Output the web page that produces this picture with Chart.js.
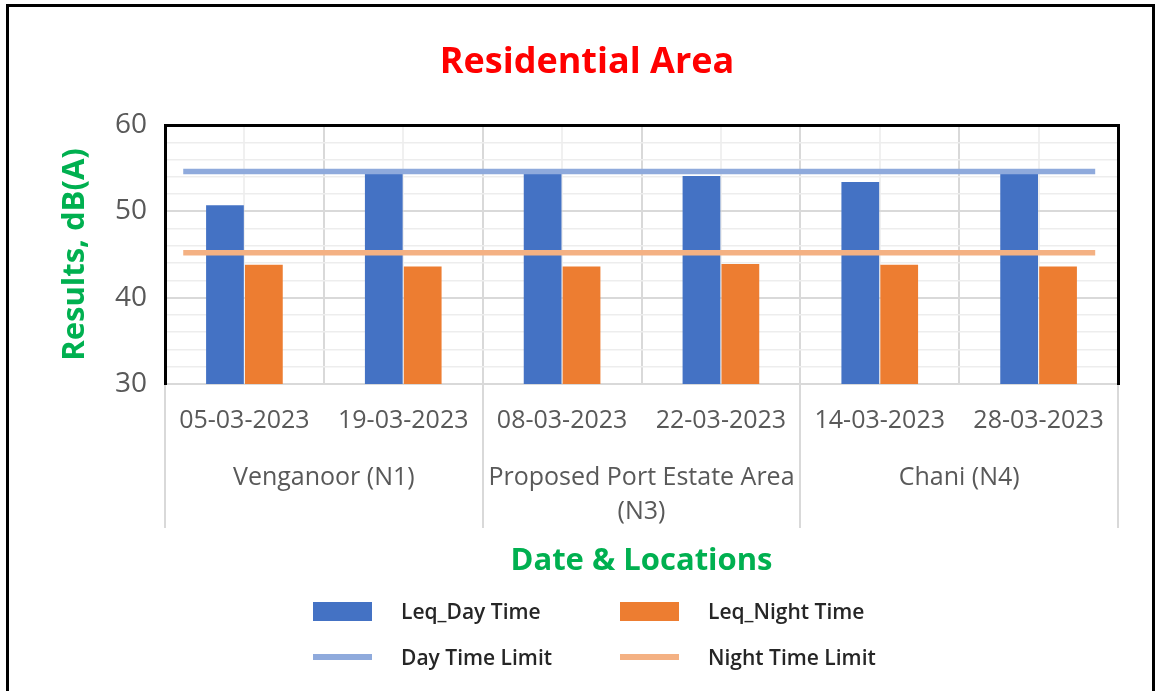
<!DOCTYPE html>
<html>
<head>
<meta charset="utf-8">
<script src="https://cdn.jsdelivr.net/npm/chart.js@4"></script>
<style>
body { margin: 0; background: #fff; font-family: "Open Sans", sans-serif; }
#wrap { position: relative; width: 1160px; height: 691px; overflow: hidden; }
#frame { position: absolute; left: 6px; top: 4px; width: 1143px; height: 720px; border: 3px solid #000; }
#legend { position: absolute; left: 0; top: 0; width: 1160px; height: 691px; pointer-events: none; }
.item { position: absolute; display: flex; align-items: center; height: 30px; }
.item span { position: absolute; left: 88px; white-space: nowrap; font-size: 21px; font-weight: 600; color: #262626; }
</style>
</head>
<body>
<div id="wrap">
  <canvas id="c" width="1160" height="691"></canvas>
  <div id="frame"></div>
  <div id="legend"></div>
</div>
<script>
const dates = ["05-03-2023", "19-03-2023", "08-03-2023", "22-03-2023", "14-03-2023", "28-03-2023"];
const groups = ["Venganoor (N1)", "Proposed Port Estate Area (N3)", "Chani (N4)"];
const dayLeq = [50.7, 54.4, 54.4, 54.1, 53.4, 54.4];
const nightLeq = [43.8, 43.6, 43.6, 43.9, 43.8, 43.6];
const dayLimit = [54.6, 54.6, 54.6, 54.6, 54.6, 54.6];
const nightLimit = [45.2, 45.2, 45.2, 45.2, 45.2, 45.2];
const yTicks = [30, 40, 50, 60];

const grey = "#595959";
const gridMajor = "#d9d9d9";
const perGroup = dates.length / groups.length;

Chart.defaults.font.family = "'Open Sans', sans-serif";
Chart.defaults.color = grey;

function points(arr) {
    return arr.map((v, i) => ({ x: i, y: v }));
}

// chart level indexAxis 'y' so the limit lines on their own x scale do not split the bar groups;
// the bars themselves stay vertical through their own indexAxis
const chart = new Chart("c", {
    type: "bar",
    data: {
        labels: dates,
        datasets: [
            { label: "Leq_Day Time", data: dayLeq, indexAxis: "x", xAxisID: "x", yAxisID: "y", backgroundColor: "#4472C4", order: 2 },
            { label: "Leq_Night Time", data: nightLeq, indexAxis: "x", xAxisID: "x", yAxisID: "y", backgroundColor: "#ED7D31", order: 2 },
            { type: "line", label: "Day Time Limit", data: points(dayLimit), indexAxis: "x", xAxisID: "xl", yAxisID: "y",
              borderColor: "#8FAADC", backgroundColor: "#8FAADC", borderWidth: 5.5, pointRadius: 0, order: 1 },
            { type: "line", label: "Night Time Limit", data: points(nightLimit), indexAxis: "x", xAxisID: "xl", yAxisID: "y",
              borderColor: "#F4B183", backgroundColor: "#F4B183", borderWidth: 5.5, pointRadius: 0, order: 1 }
        ]
    },
    options: {
        indexAxis: "y",
        responsive: false,
        animation: false,
        layout: { padding: { left: 56, right: 42, top: 0, bottom: 111 } },
        datasets: { bar: { categoryPercentage: 0.49, barPercentage: 0.97 } },
        plugins: {
            legend: { display: false },
            tooltip: { enabled: false },
            title: {
                display: true,
                text: "Residential Area",
                color: "#FF0000",
                font: { size: 36, weight: "bold" },
                padding: { top: 41.4, bottom: 40.4 }
            }
        },
        scales: {
            x: {
                type: "category",
                offset: true,
                grid: {
                    offset: true,
                    color: gridMajor,
                    lineWidth: 2,
                    tickLength: 66,
                    tickColor: ctx => (ctx.index === undefined || ctx.index % perGroup === 0) ? gridMajor : "transparent"
                },
                border: { color: gridMajor, width: 2 },
                ticks: { color: grey, font: { size: 25 }, padding: -44, maxRotation: 0, autoSkip: false },
                afterFit: s => { s.height = 66; }
            },
            xg: {
                type: "category",
                position: "bottom",
                labels: groups,
                offset: true,
                grid: { offset: true, drawOnChartArea: false, color: gridMajor, lineWidth: 2, tickLength: 78 },
                border: { display: false },
                ticks: {
                    color: grey,
                    font: { size: 25, lineHeight: 1.36 },
                    padding: -67,
                    maxRotation: 0,
                    autoSkip: false,
                    callback: function(v, i) {
                        var s = groups[i];
                        if (s.length > 20) {
                            var k = s.lastIndexOf(" ");
                            return [s.slice(0, k), s.slice(k + 1)];
                        }
                        return s;
                    }
                },
                title: {
                    display: true,
                    text: "Date & Locations",
                    color: "#00B050",
                    font: { size: 31, weight: "bold" },
                    padding: 0
                },
                afterFit: s => { s.height = 130; }
            },
            xc: {
                type: "category",
                position: "top",
                offset: true,
                grid: { offset: false, color: "#f0f0f0", lineWidth: 2, drawTicks: false },
                border: { color: "#000", width: 3, z: 1 },
                ticks: { display: false },
                afterFit: s => { s.height = 0; }
            },
            xl: {
                type: "linear",
                display: false,
                offset: false,
                grid: { offset: false },
                min: -0.1,
                max: 5.125
            },
            y: {
                type: "linear",
                position: "left",
                offset: false,
                min: yTicks[0],
                max: yTicks[yTicks.length - 1],
                grid: {
                    offset: false,
                    drawTicks: false,
                    color: ctx => (ctx.tick && ctx.tick.value % 10 === 0) ? gridMajor : "#ededed",
                    lineWidth: ctx => (ctx.tick && ctx.tick.value % 10 === 0) ? 2 : 1.5
                },
                border: { color: "#000", width: 3, z: 1 },
                ticks: {
                    stepSize: 2,
                    autoSkip: false,
                    padding: 18,
                    color: grey,
                    font: { size: 28 },
                    callback: v => yTicks.includes(v) ? v : ""
                },
                title: {
                    display: true,
                    text: "Results, dB(A)",
                    color: "#00B050",
                    font: { size: 31, weight: "bold" },
                    padding: { top: 0.4, bottom: 0 }
                },
                afterFit: s => { s.width = 109; }
            },
            y2: {
                type: "linear",
                position: "right",
                offset: false,
                grid: { offset: false, drawOnChartArea: false, drawTicks: false },
                border: { color: "#000", width: 3, z: 1 },
                ticks: { display: false },
                afterFit: s => { s.width = 0; }
            }
        }
    }
});

// legend in two columns, built from the datasets
const legend = document.getElementById("legend");
chart.data.datasets.forEach(function(ds, i) {
    var col = i % 2, row = Math.floor(i / 2);
    var item = document.createElement("div");
    item.className = "item";
    item.style.left = (313 + col * 307) + "px";
    item.style.top = (596 + row * 46) + "px";
    var sw = document.createElement("div");
    sw.style.width = "59px";
    sw.style.height = ds.type === "line" ? "6px" : "19px";
    sw.style.background = ds.backgroundColor;
    var txt = document.createElement("span");
    txt.textContent = ds.label;
    item.appendChild(sw);
    item.appendChild(txt);
    legend.appendChild(item);
});
</script>
</body>
</html>
